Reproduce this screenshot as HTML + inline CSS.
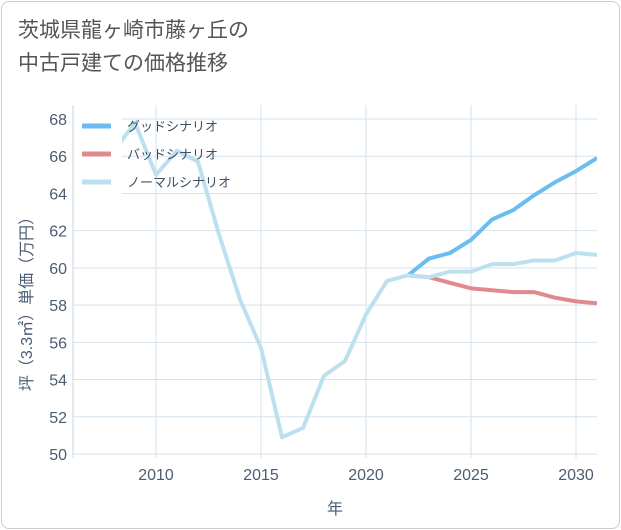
<!DOCTYPE html>
<html><head><meta charset="utf-8"><style>
body{margin:0;background:#fff;font-family:"Liberation Sans","Noto Sans CJK JP",sans-serif;}
#card{position:absolute;left:1px;top:1px;width:617px;height:526px;border:1px solid #ccc;border-radius:8px;background:#fff;}
#title{position:absolute;left:18px;top:14px;font-size:21px;line-height:33px;color:#555;}
</style></head><body>
<div id="card"></div>
<div id="title">茨城県龍ヶ崎市藤ヶ丘の<br>中古戸建ての価格推移</div>
<svg id="chart" width="621" height="530" style="position:absolute;left:0;top:0"></svg>
<script>
const years=[2008,2009,2010,2011,2012,2013,2014,2015,2016,2017,2018,2019,2020,2021,2022,2023,2024,2025,2026,2027,2028,2029,2030,2031];
const normal=[66.3,67.8,65.0,66.3,65.7,61.8,58.3,55.7,50.9,51.4,54.2,55.0,57.5,59.3,59.6,59.5,59.8,59.8,60.2,60.2,60.4,60.4,60.8,60.7];
const goodYears=[2022,2023,2024,2025,2026,2027,2028,2029,2030,2031];
const good=[59.6,60.5,60.8,61.5,62.6,63.1,63.9,64.6,65.2,65.9];
const bad=[59.6,59.5,59.2,58.9,58.8,58.7,58.7,58.4,58.2,58.1];
const yTicks=[50,52,54,56,58,60,62,64,66,68];
const xTicks=[2010,2015,2020,2025,2030];
const legendLabels=["グッドシナリオ","バッドシナリオ","ノーマルシナリオ"];
const colors=["#6bbcf0","#e08a90","#bde0ee"];
const L=73,R=597,T=105,B=458;
const X=v=>156+(v-2010)*21;
const Y=v=>454-(v-50)*(335/18);
const svg=document.getElementById('chart');
const NS='http://www.w3.org/2000/svg';
function mk(tag,attrs,parent){const e=document.createElementNS(NS,tag);for(const k in attrs)e.setAttribute(k,attrs[k]);(parent||svg).appendChild(e);return e;}
yTicks.forEach(v=>{const l=mk('line',{x1:L,x2:R,y1:Y(v),y2:Y(v),stroke:'#d5e3ee','stroke-width':1});

const t=mk('text',{x:L-6,y:Y(v)+6,'text-anchor':'end','font-size':16,fill:'#4a5d72'});t.textContent=v;
});
xTicks.forEach(v=>{const l=mk('line',{x1:X(v),x2:X(v),y1:T,y2:B,stroke:'#d5e3ee','stroke-width':1});

const t=mk('text',{x:X(v),y:480,'text-anchor':'middle','font-size':16,fill:'#4a5d72'});t.textContent=v;
});
const ax=mk('line',{x1:L,x2:L,y1:T,y2:B,stroke:'#c8d3dc','stroke-width':1});

const xt=mk('text',{x:335,y:514,'text-anchor':'middle','font-size':16,fill:'#4a5d72'});xt.textContent='年';

const yt=mk('text',{x:32,y:300,'text-anchor':'middle','font-size':16,fill:'#4a5d72',transform:'rotate(-90 32 300)'});yt.textContent='坪（3.3㎡）単価（万円）';

const clip=mk('clipPath',{id:'c'});mk('rect',{x:L,y:T,width:R-L,height:B-T},clip);
function line(xs,ys,c,name){const p=mk('polyline',{points:xs.map((x,i)=>X(x)+','+Y(ys[i])).join(' '),fill:'none',stroke:c,'stroke-width':4,'stroke-linejoin':'round','clip-path':'url(#c)'});
}
line(goodYears,good,colors[0],'good-scenario-line');
line(goodYears,bad,colors[1],'bad-scenario-line');
line(years,normal,colors[2],'normal-scenario-line');
const lg=mk('rect',{x:74,y:110,width:48,height:86,fill:'#fff'});

legendLabels.forEach((s,i)=>{const y=126+i*28;
const l=mk('line',{x1:82,x2:111,y1:y,y2:y,stroke:colors[i],'stroke-width':5});

const t=mk('text',{x:127,y:y+5,'font-size':13,fill:'#3d4f63'});t.textContent=s;
});
</script>
</body></html>
